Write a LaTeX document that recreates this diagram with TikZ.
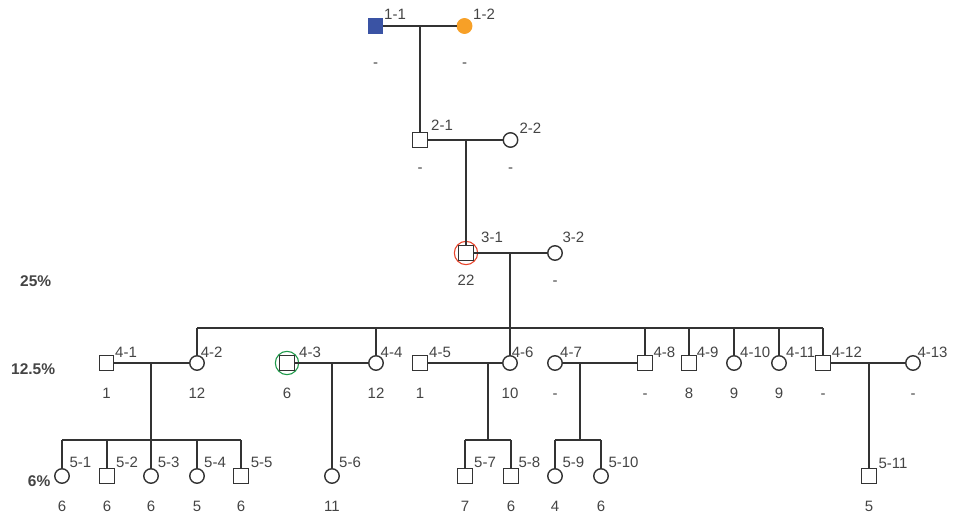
\documentclass[tikz,border=0pt]{standalone}
\usepackage{fontspec}
\setmainfont{Liberation Sans}
\definecolor{linec}{HTML}{333333}
\definecolor{txt}{HTML}{444444}
\definecolor{affblue}{HTML}{3A53A4}
\definecolor{afforange}{HTML}{F7A027}
\definecolor{ringred}{HTML}{E8452C}
\definecolor{ringgreen}{HTML}{1E9A4A}
\tikzset{
  conn/.style={draw=linec, line width=1.5pt},
  male/.style={rectangle, draw=linec, line width=1.4pt, fill=white, minimum size=14.5pt, inner sep=0pt},
  female/.style={circle, draw=linec, line width=1.4pt, fill=white, minimum size=14.5pt, inner sep=0pt},
  ringnode/.style={circle, line width=1.1pt, minimum size=23.3pt, inner sep=0pt},
  idl/.style={anchor=base west, inner sep=0pt, text=txt, font=\fontsize{15}{18}\selectfont},
  numl/.style={anchor=base, inner sep=0pt, text=txt, font=\fontsize{15}{18}\selectfont},
  pctl/.style={anchor=base west, inner sep=0pt, text=txt, font=\fontsize{15.5}{18}\selectfont\bfseries},
}
\begin{document}
\begin{tikzpicture}[x=1pt,y=-1pt]
\useasboundingbox (0,0) rectangle (954,513);
% ---------- generation 1
\node[male, fill=affblue, draw=affblue] (n11) at (375.5,26) {};
\node[female, fill=afforange, draw=afforange] (n12) at (464.5,26) {};
% ---------- generation 2
\node[male] (n21) at (420,140) {};
\node[female] (n22) at (510.5,140) {};
% ---------- generation 3
\node[male] (n31) at (466,253) {};
\node[ringnode, draw=ringred] (r31) at (466,253) {};
\node[female] (n32) at (555,253) {};
% ---------- generation 4
\node[male] (n41) at (106.5,363) {};
\node[female] (n42) at (197,363) {};
\node[male] (n43) at (287,363) {};
\node[ringnode, draw=ringgreen] (r43) at (287,363) {};
\node[female] (n44) at (376,363) {};
\node[male] (n45) at (420,363) {};
\node[female] (n46) at (510,363) {};
\node[female] (n47) at (555,363) {};
\node[male] (n48) at (645,363) {};
\node[male] (n49) at (689,363) {};
\node[female] (n410) at (734,363) {};
\node[female] (n411) at (779,363) {};
\node[male] (n412) at (823,363) {};
\node[female] (n413) at (913,363) {};
% ---------- generation 5
\node[female] (n51) at (62,476) {};
\node[male] (n52) at (107,476) {};
\node[female] (n53) at (151,476) {};
\node[female] (n54) at (197,476) {};
\node[male] (n55) at (241,476) {};
\node[female] (n56) at (332,476) {};
\node[male] (n57) at (465,476) {};
\node[male] (n58) at (511,476) {};
\node[female] (n59) at (555,476) {};
\node[female] (n510) at (601,476) {};
\node[male] (n511) at (869,476) {};
% ---------- coordinates of the connectors
\coordinate (m1) at (420,26);
\coordinate (m2) at (466,140);
\coordinate (m3) at (510,253);
\coordinate (s3) at (510,328);
\coordinate (s3l) at (197,328);
\coordinate (s3r) at (823,328);
\coordinate (s3a) at (376,328);
\coordinate (s3b) at (645,328);
\coordinate (s3c) at (689,328);
\coordinate (s3d) at (734,328);
\coordinate (s3e) at (779,328);
\coordinate (m41) at (151,363);
\coordinate (s41) at (151,440);
\coordinate (s41l) at (62,440);
\coordinate (s41r) at (241,440);
\coordinate (s41a) at (107,440);
\coordinate (s41b) at (197,440);
\coordinate (m43) at (332,363);
\coordinate (m45) at (488,363);
\coordinate (s45) at (488,440);
\coordinate (s45l) at (465,440);
\coordinate (s45r) at (511,440);
\coordinate (m47) at (580,363);
\coordinate (s47) at (580,440);
\coordinate (s47l) at (555,440);
\coordinate (s47r) at (601,440);
\coordinate (m412) at (869,363);
% ---------- connectors
\draw[conn] (n11) -- (n12);
\draw[conn] (m1) -- (n21);
\draw[conn] (n21) -- (n22);
\draw[conn] (m2) -- (n31);
\draw[conn] (n31) -- (n32);
\draw[conn] (m3) -- (s3);
\draw[conn] (s3l) -- (s3r);
\draw[conn] (s3l) -- (n42);
\draw[conn] (s3a) -- (n44);
\draw[conn] (s3) -- (n46);
\draw[conn] (s3b) -- (n48);
\draw[conn] (s3c) -- (n49);
\draw[conn] (s3d) -- (n410);
\draw[conn] (s3e) -- (n411);
\draw[conn] (s3r) -- (n412);
\draw[conn] (n41) -- (n42);
\draw[conn] (m41) -- (s41);
\draw[conn] (s41l) -- (s41r);
\draw[conn] (s41l) -- (n51);
\draw[conn] (s41a) -- (n52);
\draw[conn] (s41) -- (n53);
\draw[conn] (s41b) -- (n54);
\draw[conn] (s41r) -- (n55);
\draw[conn] (n43) -- (n44);
\draw[conn] (m43) -- (n56);
\draw[conn] (n45) -- (n46);
\draw[conn] (m45) -- (s45);
\draw[conn] (s45l) -- (s45r);
\draw[conn] (s45l) -- (n57);
\draw[conn] (s45r) -- (n58);
\draw[conn] (n47) -- (n48);
\draw[conn] (m47) -- (s47);
\draw[conn] (s47l) -- (s47r);
\draw[conn] (s47l) -- (n59);
\draw[conn] (s47r) -- (n510);
\draw[conn] (n412) -- (n413);
\draw[conn] (m412) -- (n511);
% ---------- identifiers
\node[idl] (l11) at (384,20) {1-1};
\node[idl] (l12) at (473,20) {1-2};
\node[idl] (l21) at (431,131) {2-1};
\node[idl] (l22) at (519.3,134) {2-2};
\node[idl] (l31) at (481,243) {3-1};
\node[idl] (l32) at (562.3,243) {3-2};
\node[idl] (l41) at (115,357) {4-1};
\node[idl] (l42) at (200.7,357) {4-2};
\node[idl] (l43) at (299,357) {4-3};
\node[idl] (l44) at (380.5,357) {4-4};
\node[idl] (l45) at (429,357) {4-5};
\node[idl] (l46) at (511.7,357) {4-6};
\node[idl] (l47) at (560,357) {4-7};
\node[idl] (l48) at (653.3,357) {4-8};
\node[idl] (l49) at (696.7,357) {4-9};
\node[idl] (l410) at (740,357) {4-10};
\node[idl] (l411) at (786,357) {4-11};
\node[idl] (l412) at (831.7,357) {4-12};
\node[idl] (l413) at (917.3,357) {4-13};
\node[idl] (l51) at (69.3,467) {5-1};
\node[idl] (l52) at (116,467) {5-2};
\node[idl] (l53) at (157.7,467) {5-3};
\node[idl] (l54) at (204,467) {5-4};
\node[idl] (l55) at (250.7,467) {5-5};
\node[idl] (l56) at (339,467) {5-6};
\node[idl] (l57) at (474,467) {5-7};
\node[idl] (l58) at (518.3,467) {5-8};
\node[idl] (l59) at (562.3,467) {5-9};
\node[idl] (l510) at (608.3,467) {5-10};
\node[idl] (l511) at (878.3,468) {5-11};
% ---------- values
\node[numl] (v11) at (375.5,68) {-};
\node[numl] (v12) at (464.5,68) {-};
\node[numl] (v21) at (420,173) {-};
\node[numl] (v22) at (510.5,173) {-};
\node[numl] (v31) at (466,286) {22};
\node[numl] (v32) at (555,286) {-};
\node[numl] (v41) at (106.5,399) {1};
\node[numl] (v42) at (197,399) {12};
\node[numl] (v43) at (287,399) {6};
\node[numl] (v44) at (376,399) {12};
\node[numl] (v45) at (420,399) {1};
\node[numl] (v46) at (510,399) {10};
\node[numl] (v47) at (555,399) {-};
\node[numl] (v48) at (645,399) {-};
\node[numl] (v49) at (689,399) {8};
\node[numl] (v410) at (734,399) {9};
\node[numl] (v411) at (779,399) {9};
\node[numl] (v412) at (823,399) {-};
\node[numl] (v413) at (913,399) {-};
\node[numl] (v51) at (62,511) {6};
\node[numl] (v52) at (107,511) {6};
\node[numl] (v53) at (151,511) {6};
\node[numl] (v54) at (197,511) {5};
\node[numl] (v55) at (241,511) {6};
\node[numl] (v56) at (332,511) {11};
\node[numl] (v57) at (465,511) {7};
\node[numl] (v58) at (511,511) {6};
\node[numl] (v59) at (555,511) {4};
\node[numl] (v510) at (601,511) {6};
\node[numl] (v511) at (869,511) {5};
% ---------- percentages
\node[pctl] (p25) at (20,286.5) {25\%};
\node[pctl] (p125) at (11,374) {12.5\%};
\node[pctl] (p6) at (27.7,486) {6\%};
\end{tikzpicture}
\end{document}
